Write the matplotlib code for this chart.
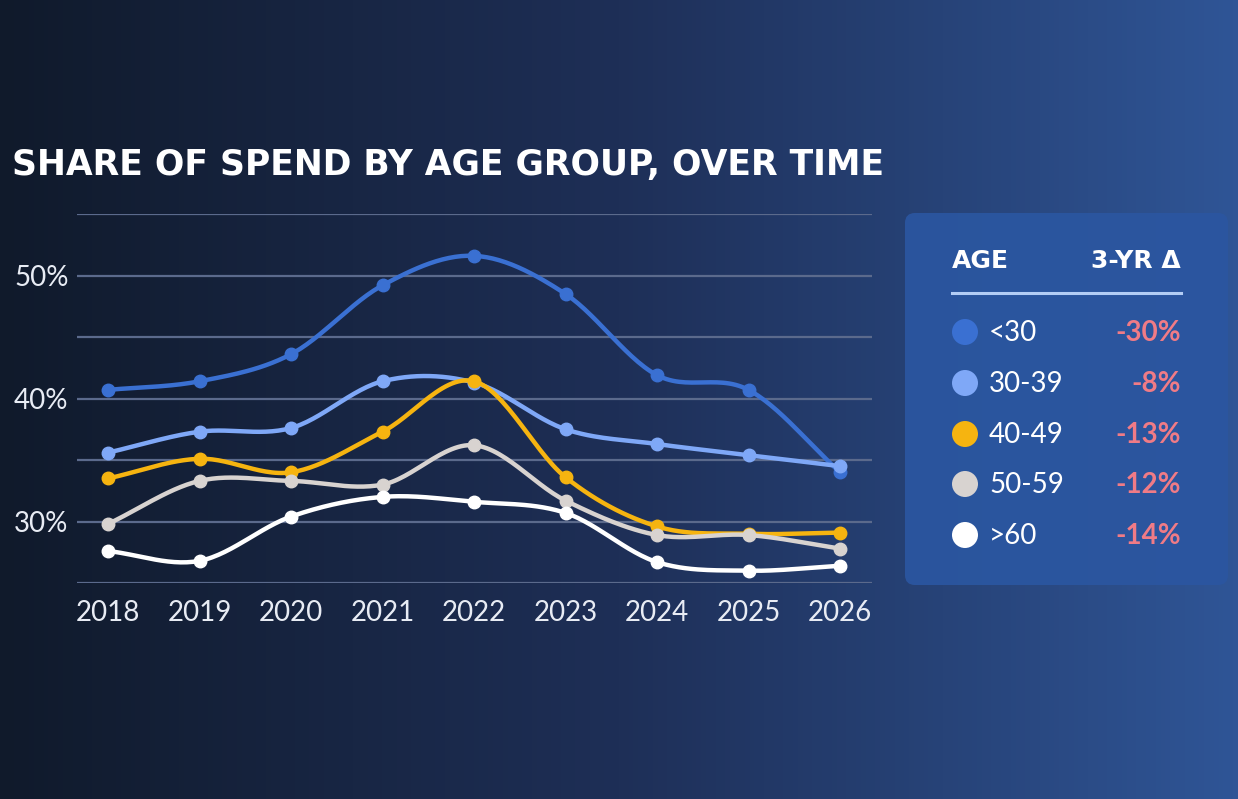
import numpy as np
import matplotlib
matplotlib.use("Agg")
import matplotlib.pyplot as plt
from matplotlib.colors import LinearSegmentedColormap
from matplotlib.patches import FancyBboxPatch, Circle

years = [2018, 2019, 2020, 2021, 2022, 2023, 2024, 2025, 2026]
groups = ["<30", "30-39", "40-49", "50-59", ">60"]
under_30 = [40.7, 41.4, 43.6, 49.2, 51.6, 48.5, 41.9, 40.7, 34.0]
age_30_39 = [35.6, 37.3, 37.6, 41.4, 41.3, 37.5, 36.3, 35.4, 34.5]
age_40_49 = [33.5, 35.1, 34.0, 37.3, 41.4, 33.6, 29.6, 29.0, 29.1]
age_50_59 = [29.8, 33.3, 33.3, 33.0, 36.2, 31.7, 28.9, 28.9, 27.8]
over_60 = [27.6, 26.8, 30.4, 32.0, 31.6, 30.7, 26.7, 26.0, 26.4]
deltas = ["-30%", "-8%", "-13%", "-12%", "-14%"]

series = [under_30, age_30_39, age_40_49, age_50_59, over_60]
colors = ["#3a70d2", "#7fa8f7", "#f6b410", "#d8d3d0", "#ffffff"]

W, H = 1238, 799
fig = plt.figure(figsize=(W / 100, H / 100), dpi=100)

# background gradient
bg = fig.add_axes([0, 0, 1, 1])
cmap = LinearSegmentedColormap.from_list("bg", ["#101a2b", "#1e2f57", "#2f5596"])
bg.imshow(np.linspace(0, 1, 256)[None, :], aspect="auto", cmap=cmap, extent=[0, W, H, 0])
bg.set_xlim(0, W)
bg.set_ylim(H, 0)
bg.axis("off")


def smooth(xs, ys, n=30):
    # catmull-rom through the points, for drawing only
    xs = np.asarray(xs, float)
    ys = np.asarray(ys, float)
    px = np.concatenate([[2 * xs[0] - xs[1]], xs, [2 * xs[-1] - xs[-2]]])
    py = np.concatenate([[2 * ys[0] - ys[1]], ys, [2 * ys[-1] - ys[-2]]])
    ox, oy = [], []
    t = np.linspace(0, 1, n)
    for i in range(1, len(px) - 2):
        for p, out in ((px, ox), (py, oy)):
            p0, p1, p2, p3 = p[i - 1], p[i], p[i + 1], p[i + 2]
            out.extend(0.5 * ((2 * p1) + (-p0 + p2) * t
                              + (2 * p0 - 5 * p1 + 4 * p2 - p3) * t ** 2
                              + (-p0 + 3 * p1 - 3 * p2 + p3) * t ** 3))
    return ox, oy


# chart axes: x 77..872 px, y 214..583 px
ax = fig.add_axes([77 / W, 1 - 583 / H, (872 - 77) / W, (583 - 214) / H])
ax.patch.set_alpha(0)
ax.set_xlim(2018 - 31 / 91.5, 2026 + 32 / 91.5)
ax.set_ylim(25, 55)
for s in ax.spines.values():
    s.set_visible(False)
ax.set_yticks([30, 40, 50])
ax.set_yticklabels(["30%", "40%", "50%"])
ax.set_yticks([25, 35, 45, 55], minor=True)
ax.set_xticks(years)
ax.set_xticklabels([str(y) for y in years])
ax.grid(True, axis="y", which="both", color="#5b6a8c", lw=1.6)
ax.set_axisbelow(True)
ax.tick_params(axis="both", which="both", length=0, colors="#e8ecf4", labelsize=20)
ax.tick_params(axis="y", pad=6)
ax.tick_params(axis="x", pad=12)
for lab in ax.get_xticklabels() + ax.get_yticklabels():
    lab.set_fontfamily("Lato")

for vals, c in zip(series, colors):
    sx, sy = smooth(years, vals)
    ax.plot(sx, sy, color=c, lw=3.2, solid_capstyle="round", clip_on=False)
    ax.plot(years, vals, "o", color=c, ms=9, clip_on=False)

# title
fig.text(12 / W, 1 - 165 / H, "SHARE OF SPEND BY AGE GROUP, OVER TIME",
         color="white", fontsize=24.9, fontweight="bold", family="DejaVu Sans",
         va="center", ha="left")

# legend panel
box = FancyBboxPatch((905, 213), 323, 372, boxstyle="round,pad=0,rounding_size=10",
                     fc="#2b56a0", ec="none", alpha=0.95)
bg.add_patch(box)
bg.text(952, 261, "AGE", color="white", fontsize=18, fontweight="bold",
        family="DejaVu Sans", va="center", ha="left")
bg.text(1181, 261, "3-YR Δ", color="white", fontsize=18, fontweight="bold",
        family="DejaVu Sans", va="center", ha="right")
bg.plot([952, 1181], [293, 293], color="#b3cdf5", lw=2.2)
row_y = [332, 383, 434, 484, 535]
for yy, g, d, c in zip(row_y, groups, deltas, colors):
    bg.add_patch(Circle((965, yy), 13, fc=c, ec="none"))
    bg.text(989, yy + 1, g, color="white", fontsize=20, family="Lato",
            va="center", ha="left")
    bg.text(1181, yy + 1, d, color="#f07b86", fontsize=20, fontweight="bold",
            family="Lato", va="center", ha="right")

fig.savefig("out.png", dpi=100)
